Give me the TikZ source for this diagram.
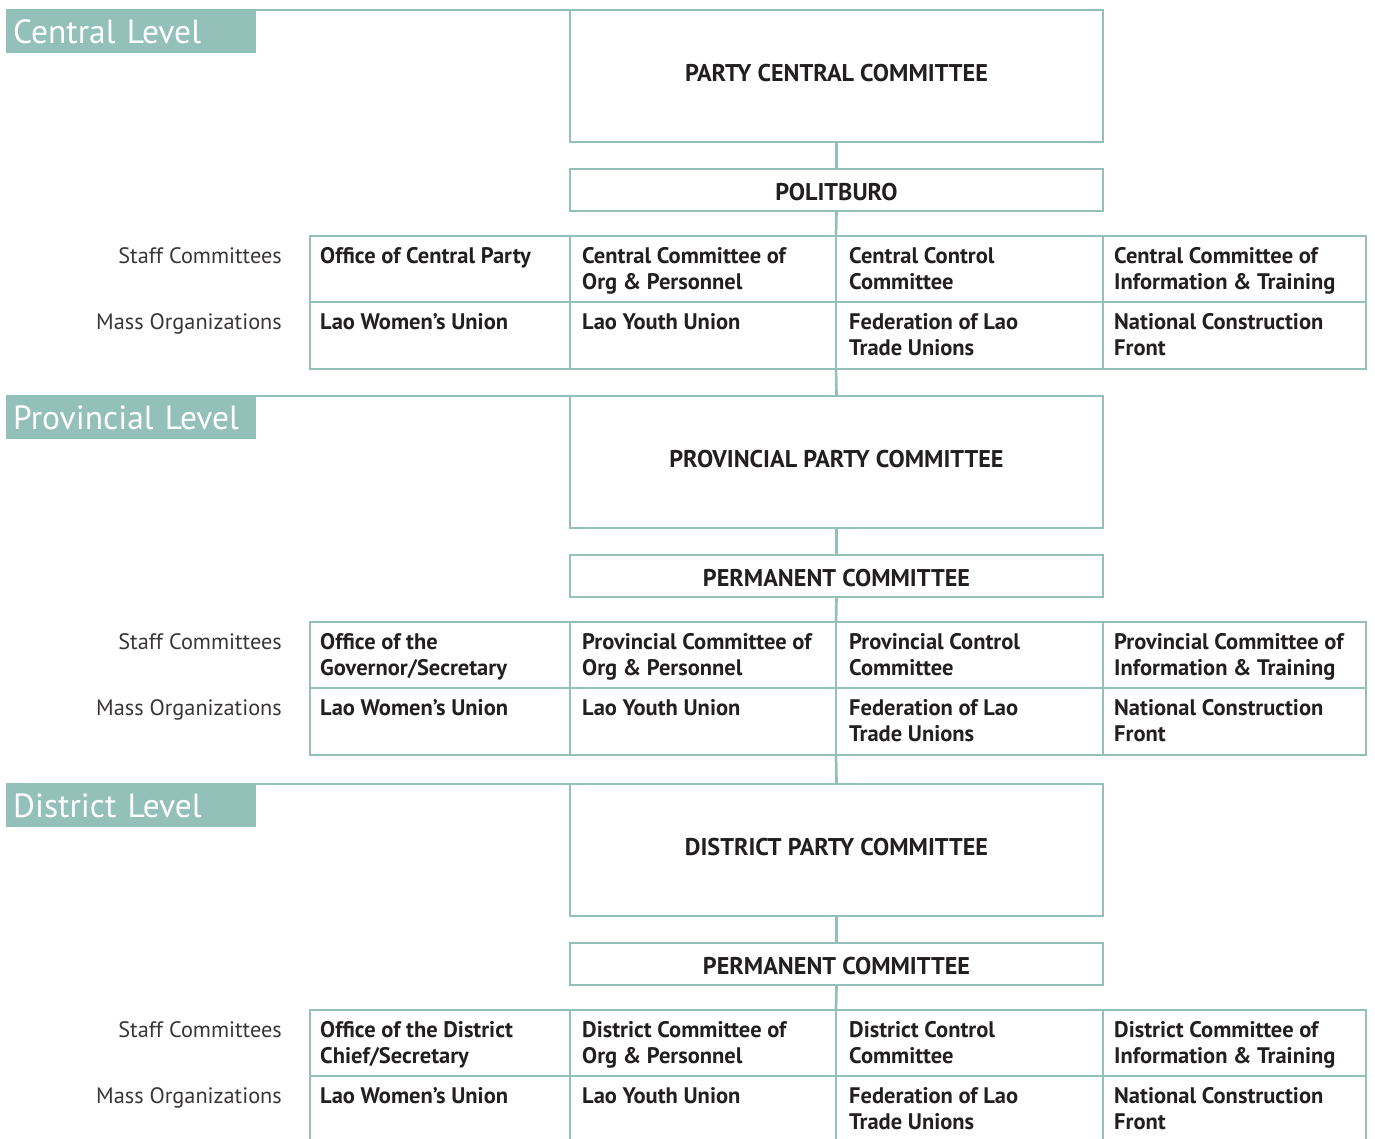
\documentclass[tikz,border=0pt]{standalone}
\usepackage{fontspec}
\setmainfont{PT Sans}
\definecolor{tl}{HTML}{93C0B8}
\definecolor{ink}{HTML}{231F20}
\tikzset{
  ln/.style={draw=tl, line width=2.7pt},
  labbox/.style={fill=tl, anchor=north west, minimum width=250pt, minimum height=43pt,
    inner xsep=7pt, inner ysep=0pt, text width=236pt, align=left, text=white,
    text height=23pt, text depth=0pt, font=\fontsize{33.5}{35}\selectfont},
  bigbox/.style={ln, anchor=north west, minimum width=533pt, minimum height=132pt,
    inner sep=0pt, outer sep=0pt, text=ink, text depth=7pt,
    font=\fontsize{24.2}{28}\selectfont\bfseries},
  smallbox/.style={bigbox, minimum height=42pt, text depth=0pt, text height=21pt},
  cell/.style={ln, anchor=north west, inner sep=0pt, outer sep=0pt},
  ctext/.style={anchor=north west, inner sep=0pt, align=left, text=ink,
    font=\fontsize{22.5}{26.5}\selectfont\bfseries},
  side/.style={anchor=base east, inner sep=0pt, text=ink!90,
    font=\fontsize{22.3}{26}\selectfont},
}
\newcommand\lvl[9]{%
  \node[labbox] (#1lab) at (6,#2) {#3};
  \draw[ln] (#1lab.north west) -- (570,#2);
  \node[bigbox] (#1big) at (570,#2) {#4};
  \node[smallbox] (#1pb) at (570,#2+159) {#5};
  \node[cell, minimum width=260pt, minimum height=66pt] (#1s1) at (310,#2+226) {};
  \node[cell, minimum width=266pt, minimum height=66pt] (#1s2) at (570,#2+226) {};
  \node[cell, minimum width=267pt, minimum height=66pt] (#1s3) at (836,#2+226) {};
  \node[cell, minimum width=263pt, minimum height=66pt] (#1s4) at (1103,#2+226) {};
  \node[cell, minimum width=260pt, minimum height=67pt] (#1m1) at (310,#2+292) {};
  \node[cell, minimum width=266pt, minimum height=67pt] (#1m2) at (570,#2+292) {};
  \node[cell, minimum width=267pt, minimum height=67pt] (#1m3) at (836,#2+292) {};
  \node[cell, minimum width=263pt, minimum height=67pt] (#1m4) at (1103,#2+292) {};
  \draw[ln] (#1big.south) -- (#1pb.north);
  \draw[ln] (#1pb.south) -- (#1s2.north east);
  \node[side] (#1sl) at ([shift={(-28,27)}]#1s1.north west) {Staff Committees};
  \node[side] (#1ml) at ([shift={(-28,27)}]#1m1.north west) {Mass Organizations};
  \node[ctext] (#1s1t) at ([shift={(10,11)}]#1s1.north west) {#6};
  \node[ctext] (#1s2t) at ([shift={(12,11)}]#1s2.north west) {#7};
  \node[ctext] (#1s3t) at ([shift={(13,11)}]#1s3.north west) {#8};
  \node[ctext] (#1s4t) at ([shift={(11,11)}]#1s4.north west) {#9};
  \node[ctext] (#1m1t) at ([shift={(10,11)}]#1m1.north west) {Lao Women’s Union};
  \node[ctext] (#1m2t) at ([shift={(12,11)}]#1m2.north west) {Lao Youth Union};
  \node[ctext] (#1m3t) at ([shift={(13,11)}]#1m3.north west) {Federation of Lao\\Trade Unions};
  \node[ctext] (#1m4t) at ([shift={(11,11)}]#1m4.north west) {National Construction\\Front};
}
\begin{document}
\begin{tikzpicture}[x=1pt, y=-1pt]
  \useasboundingbox (0,0) rectangle (1375,1138);
  \clip (0,0) rectangle (1375,1138);
  \lvl{cen}{10}{Central Level}{PARTY CENTRAL COMMITTEE}{POLITBURO}%
    {Office of Central Party}{Central Committee of\\Org \& Personnel}%
    {Central Control\\Committee}{Central Committee of\\Information \& Training}
  \lvl{pro}{396}{Provincial Level}{PROVINCIAL PARTY COMMITTEE}{PERMANENT COMMITTEE}%
    {Office of the\\Governor/Secretary}{Provincial Committee of\\Org \& Personnel}%
    {Provincial Control\\Committee}{Provincial Committee of\\Information \& Training}
  \lvl{dis}{784}{District Level}{DISTRICT PARTY COMMITTEE}{PERMANENT COMMITTEE}%
    {Office of the District\\Chief/Secretary}{District Committee of\\Org \& Personnel}%
    {District Control\\Committee}{District Committee of\\Information \& Training}
  \draw[ln] (cenm2.south east) -- (probig.north);
  \draw[ln] (prom2.south east) -- (disbig.north);
\end{tikzpicture}
\end{document}
